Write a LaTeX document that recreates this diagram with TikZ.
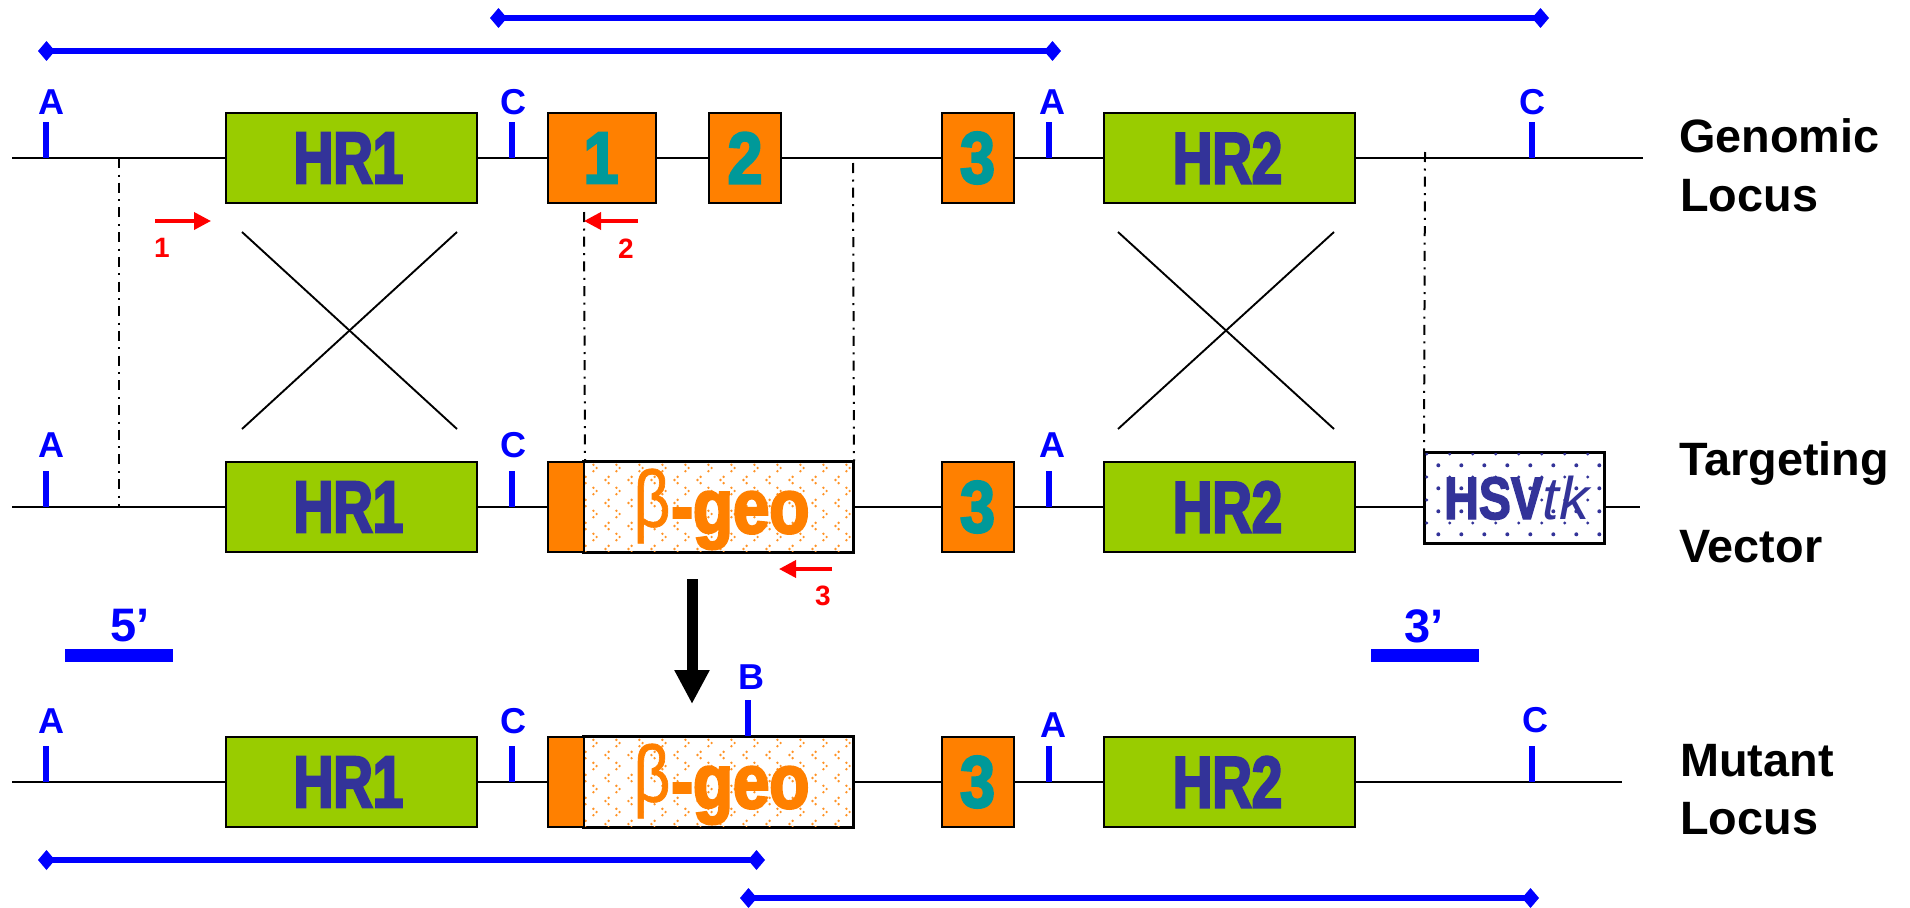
\documentclass[tikz,border=0pt]{standalone}
\usepackage{fontspec}
\usetikzlibrary{arrows.meta}
\setmainfont{Liberation Sans}
\newfontfamily\heavy[FakeBold=3.2,FakeStretch=0.75]{Liberation Sans Bold}
\newfontfamily\heavyd[FakeBold=3.2,FakeStretch=0.86]{Liberation Sans Bold}
\newfontfamily\heavyg[FakeBold=3.2,FakeStretch=0.85]{Liberation Sans Bold}
\newfontfamily\heavyb[FakeBold=2.4,FakeStretch=0.8]{Liberation Sans Bold}
\newfontfamily\betaf[FakeBold=0.8,FakeStretch=0.8]{Liberation Sans}
\definecolor{hrgreen}{HTML}{99CC00}
\definecolor{exon}{HTML}{FF8000}
\definecolor{navy}{HTML}{333399}
\definecolor{tealx}{HTML}{009999}
\definecolor{bluex}{HTML}{0000FF}
\definecolor{redx}{HTML}{FF0000}
\tikzset{
  x=1pt,y=-1pt,
  chrom/.style={black,line width=1.9pt},
  gbox/.style={draw=black,line width=2pt,inner sep=0pt,minimum height=90pt},
  hrbox/.style={gbox,fill=hrgreen,minimum width=251pt,text=navy,font=\fontsize{73}{73}\heavy},
  exbox/.style={gbox,fill=exon,text=tealx,font=\fontsize{73}{73}\heavyd},
  site/.style={bluex,line width=6.5pt},
  sitelab/.style={text=bluex,inner sep=0pt,font=\fontsize{36}{36}\bfseries},
  span/.style={bluex,line width=6.5pt,{Diamond[length=17pt,width=20pt]}-{Diamond[length=17pt,width=20pt]}},
  dd/.style={black,line width=2pt,dash pattern=on 10pt off 6.5pt on 2pt off 6.2pt},
  cross/.style={black,line width=1.9pt},
  redarrow/.style={redx,line width=3.6pt,-{Triangle[length=17pt,width=17pt]}},
  redlab/.style={text=redx,inner sep=0pt,font=\fontsize{28}{28}\bfseries},
  sidelab/.style={anchor=base west,inner sep=0pt,font=\fontsize{46.8}{46.8}\bfseries},
  bar/.style={bluex,line width=13pt},
  barlab/.style={text=bluex,inner sep=0pt,font=\fontsize{47}{47}\bfseries},
  patdot/.style={exon!85},
}
\newcommand{\chevR}[2]{%
  \fill[patdot] (#1-1.6,#2-3.2) circle (1.35pt);
  \fill[patdot] (#1+1.6,#2) circle (1.35pt);
  \fill[patdot] (#1-1.6,#2+3.2) circle (1.35pt);}
\newcommand{\chevL}[2]{%
  \fill[patdot] (#1+1.6,#2-3.2) circle (1.35pt);
  \fill[patdot] (#1-1.6,#2) circle (1.35pt);
  \fill[patdot] (#1+1.6,#2+3.2) circle (1.35pt);}
\newcommand{\geobox}[2]{% name, center y
  \node[gbox,fill=white,minimum width=269pt] (#1) at (718.5,#2) {};
  \begin{scope}
    \clip (#1.north west) rectangle (#1.south east);
    \foreach \i in {-1,...,12}{\foreach \j in {0,...,3}{
      \pgfmathsetmacro{\px}{595+23*\i}\pgfmathsetmacro{\py}{#2-39+23*\j}
      \chevR{\px}{\py}
      \pgfmathsetmacro{\qx}{607+23*\i}\pgfmathsetmacro{\qy}{#2-27+23*\j}
      \chevL{\qx}{\qy}
    }}
  \end{scope}
  \draw[black,line width=2pt] (#1.north west) rectangle (#1.south east);
  \node[gbox,fill=exon,minimum width=36pt] (#1e) at (566,#2) {};
  \node[inner sep=0pt,text=exon,font=\fontsize{80}{80}\betaf] (#1b) at (652,#2-1) {β};
  \node[inner sep=0pt,text=exon,anchor=base west,font=\fontsize{77}{77}\heavyg] (#1t) at (671,#2+26) {-geo};
}
\begin{document}
\begin{tikzpicture}
\useasboundingbox (0,0) rectangle (1910,907);
% span lines
\coordinate (s1a) at (490,18); \coordinate (s1b) at (1549,18);
\coordinate (s2a) at (38,51); \coordinate (s2b) at (1061,51);
\coordinate (s3a) at (38,860); \coordinate (s3b) at (765,860);
\coordinate (s4a) at (740,898); \coordinate (s4b) at (1539,898);
\draw[span] (s1a) -- (s1b);
\draw[span] (s2a) -- (s2b);
\draw[span] (s3a) -- (s3b);
\draw[span] (s4a) -- (s4b);
% chromosome lines
\coordinate (l1a) at (12,158); \coordinate (l1b) at (1643,158);
\coordinate (l2a) at (12,507); \coordinate (l2b) at (1640,507);
\coordinate (l3a) at (12,782); \coordinate (l3b) at (1622,782);
\draw[chrom] (l1a) -- (l1b);
\draw[chrom] (l2a) -- (l2b);
\draw[chrom] (l3a) -- (l3b);
% crosses
\coordinate (c1a) at (242,232); \coordinate (c1b) at (457,429);
\coordinate (c1c) at (457,232); \coordinate (c1d) at (242,429);
\coordinate (c2a) at (1118,232); \coordinate (c2b) at (1334,429);
\coordinate (c2c) at (1334,232); \coordinate (c2d) at (1118,429);
\draw[cross] (c1a) -- (c1b); \draw[cross] (c1c) -- (c1d);
\draw[cross] (c2a) -- (c2b); \draw[cross] (c2c) -- (c2d);
% row 1
\node[hrbox] (hr1a) at (351.5,158) {\hspace{-6pt}HR1};
\node[hrbox] (hr2a) at (1229,158) {\hspace{-3pt}HR2};
\node[exbox,minimum width=108pt] (e1) at (602,158) {\hspace{-2pt}1};
\node[exbox,minimum width=72pt] (e2) at (745,158) {2};
\node[exbox,minimum width=72pt] (e3a) at (977.5,158) {3};
% row 2
\node[hrbox] (hr1b) at (351.5,507) {\hspace{-6pt}HR1};
\node[hrbox] (hr2b) at (1229,507) {\hspace{-3pt}HR2};
\geobox{g1}{507}
\node[exbox,minimum width=72pt] (e3b) at (977.5,507) {3};
\node[gbox,fill=white,minimum width=179pt] (tk) at (1514.5,498) {};
\begin{scope}
  \clip (tk.north west) rectangle (tk.south east);
  \foreach \i in {0,...,7}{\foreach \j in {0,...,3}{
    \fill[navy] (1438.3+23*\i,465.3+23*\j) circle (2pt);
    \fill[navy] (1426.7+23*\i,454+23*\j) circle (1.6pt);
  }}
\end{scope}
\draw[black,line width=2pt] (tk.north west) rectangle (tk.south east);
\node[anchor=base west,inner sep=0pt,text=navy] (tkt) at (1444,519)
  {\fontsize{60}{60}\heavyb HSV\fontsize{60}{60}\selectfont\normalfont\itshape tk};
% row 3
\node[hrbox] (hr1c) at (351.5,782) {\hspace{-6pt}HR1};
\node[hrbox] (hr2c) at (1229,782) {\hspace{-3pt}HR2};
\geobox{g2}{782}
\node[exbox,minimum width=72pt] (e3c) at (977.5,782) {3};
% dash-dot guides
\coordinate (d1t) at (119,158); \coordinate (d1b) at (119,507);
\coordinate (d2t) at (584,212); \coordinate (d3t) at (853,163);
\coordinate (d4t) at (1425,152);
\draw[dd] (d1t) -- (d1b);
\draw[dd] (d2t) -- (g1e.north east);
\draw[dd] (d3t) -- (g1.north east);
\draw[dd] (d4t) -- (tk.north west);
% sites
\foreach \n/\x/\l in {a/46/A,b/512/C,c/1049/A,d/1532/C}{
  \coordinate (t1\n) at (\x,122); \coordinate (u1\n) at (\x,158);
  \draw[site] (t1\n) -- (u1\n);
}
\foreach \n/\x in {a/46,b/512,c/1049}{
  \coordinate (t2\n) at (\x,471); \coordinate (u2\n) at (\x,507);
  \draw[site] (t2\n) -- (u2\n);
}
\foreach \n/\x in {a/46,b/512,c/1049,d/1532}{
  \coordinate (t3\n) at (\x,746); \coordinate (u3\n) at (\x,782);
  \draw[site] (t3\n) -- (u3\n);
}
\coordinate (tB) at (748,700);
\draw[site] (tB) -- (tB |- g2.north);
\node[sitelab] (la1) at (51,102) {A};
\node[sitelab] (lc1) at (513,102) {C};
\node[sitelab] (la2) at (1052,102) {A};
\node[sitelab] (lc2) at (1532,102) {C};
\node[sitelab] (la3) at (51,445) {A};
\node[sitelab] (lc3) at (513,445) {C};
\node[sitelab] (la4) at (1052,445) {A};
\node[sitelab] (la5) at (51,721) {A};
\node[sitelab] (lc5) at (513,721) {C};
\node[sitelab] (la6) at (1053,725) {A};
\node[sitelab] (lc6) at (1535,720) {C};
\node[sitelab] (lb) at (751,677) {B};
% red primers
\coordinate (p1a) at (155,221); \coordinate (p1b) at (211,221);
\coordinate (p2a) at (638,221); \coordinate (p2b) at (584,221);
\coordinate (p3a) at (832,569); \coordinate (p3b) at (779,569);
\draw[redarrow] (p1a) -- (p1b);
\draw[redarrow] (p2a) -- (p2b);
\draw[redarrow] (p3a) -- (p3b);
\node[redlab] (r1) at (162,248) {1};
\node[redlab] (r2) at (626,249) {2};
\node[redlab] (r3) at (823,596) {3};
% big arrow
\coordinate (ba) at (692,579); \coordinate (bb) at (692,704);
\draw[black,line width=11pt,-{Triangle[length=34pt,width=33pt]}] (ba) -- (bb);
% 5' 3'
\coordinate (b5a) at (65,655); \coordinate (b5b) at (173,655);
\coordinate (b3a) at (1371,655); \coordinate (b3b) at (1479,655);
\draw[bar] (b5a) -- (b5b);
\draw[bar] (b3a) -- (b3b);
\node[barlab] (t5) at (130,626) {5’};
\node[barlab] (t3) at (1424,626) {3’};
% side labels
\node[sidelab] (n1) at (1679,152) {Genomic};
\node[sidelab] (n2) at (1680,211) {Locus};
\node[sidelab] (n3) at (1679,475) {Targeting};
\node[sidelab] (n4) at (1679,562) {Vector};
\node[sidelab] (n5) at (1680,776) {Mutant};
\node[sidelab] (n6) at (1680,834) {Locus};
\end{tikzpicture}
\end{document}
